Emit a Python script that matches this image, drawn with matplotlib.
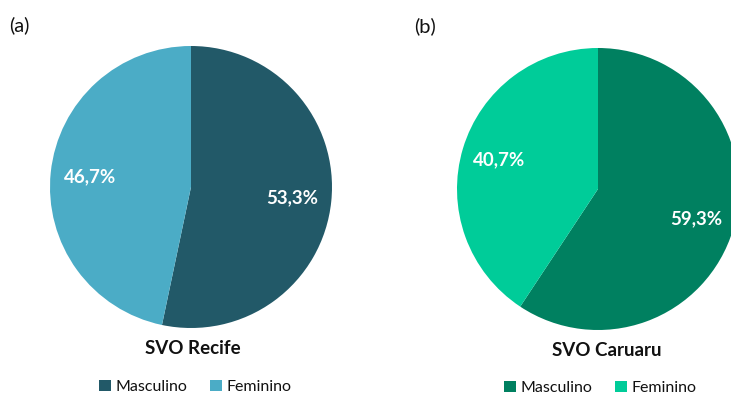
import matplotlib.pyplot as plt

# ---- data ----
categories = ["Masculino", "Feminino"]
recife_pct = [53.3, 46.7]
caruaru_pct = [59.3, 40.7]
titles = ["SVO Recife", "SVO Caruaru"]
panel_tags = ["(a)", "(b)"]

recife_colors = ["#225968", "#4BACC6"]
caruaru_colors = ["#008060", "#00CC99"]

plt.rcParams["font.family"] = ["Lato", "DejaVu Sans"]

W, H = 731, 395
fig = plt.figure(figsize=(W / 100, H / 100), dpi=100)


def px_axes(cx, cy, r):
    # axes box in pixel units (y measured from the top)
    return fig.add_axes([(cx - r) / W, (H - cy - r) / H, 2 * r / W, 2 * r / H])


def fmt(p):
    return f"{p:.1f}%".replace(".", ",")


panels = [
    dict(vals=recife_pct, colors=recife_colors, cx=191, cy=187, pctd=0.72,
         title_xy=(193, 348), leg_xy=(195, 387), tag_xy=(9, 25)),
    dict(vals=caruaru_pct, colors=caruaru_colors, cx=598, cy=189, pctd=0.73,
         title_xy=(607, 350), leg_xy=(600, 388), tag_xy=(414, 26)),
]

for i, p in enumerate(panels):
    ax = px_axes(p["cx"], p["cy"], 141)
    wedges, _, autotexts = ax.pie(
        p["vals"],
        colors=p["colors"],
        startangle=90,
        counterclock=False,
        autopct=fmt,
        pctdistance=p["pctd"],
        wedgeprops=dict(linewidth=0),
        textprops=dict(color="white", fontsize=13.5, fontweight="bold"),
    )
    ax.set_xlim(-1, 1)
    ax.set_ylim(-1, 1)

    fig.text(p["title_xy"][0] / W, 1 - p["title_xy"][1] / H, titles[i],
             ha="center", va="center", fontsize=13.5, fontweight="bold",
             color="#111111")
    fig.text(p["tag_xy"][0] / W, 1 - p["tag_xy"][1] / H, panel_tags[i],
             ha="left", va="center", fontsize=14.5, color="#111111")

    fig.legend(wedges, categories, loc="center",
               bbox_to_anchor=(p["leg_xy"][0] / W, 1 - p["leg_xy"][1] / H),
               ncol=2, frameon=False, fontsize=11.5,
               handlelength=0.75, handleheight=0.75, handletextpad=0.3,
               columnspacing=1.4, borderpad=0, labelcolor="#111111")

fig.savefig("out.png", dpi=100)
